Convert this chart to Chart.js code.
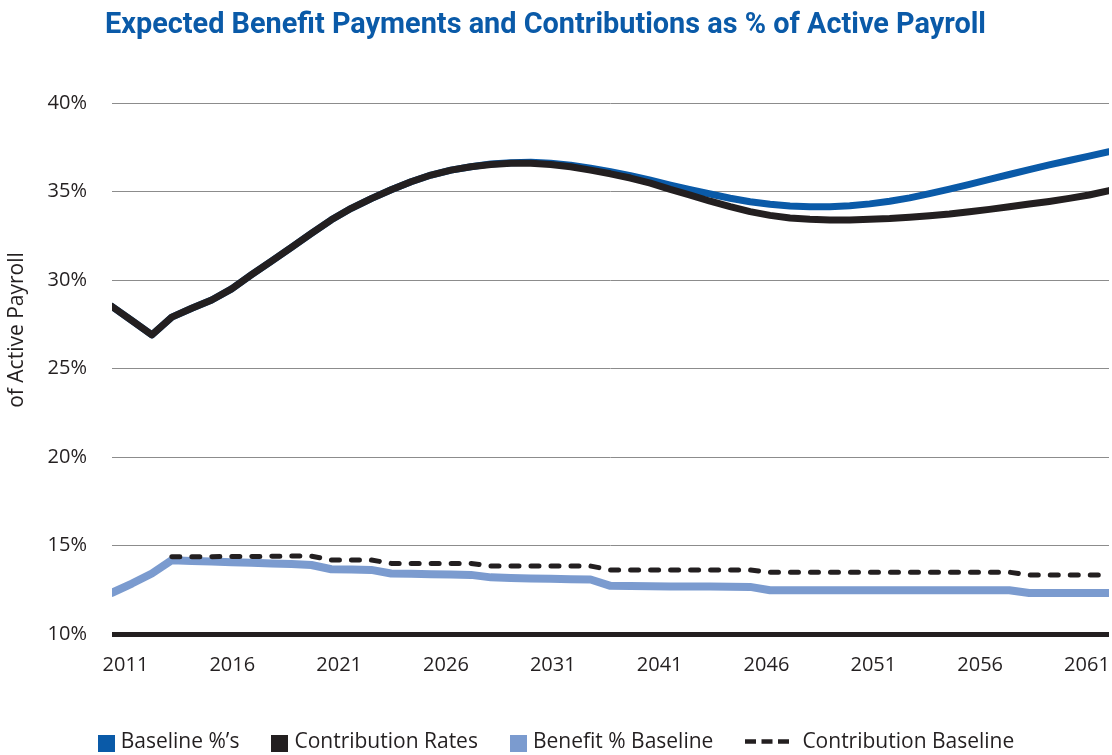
<!DOCTYPE html>
<html>
<head>
<meta charset="utf-8">
<title>Expected Benefit Payments and Contributions as % of Active Payroll</title>
<script src="https://cdn.jsdelivr.net/npm/chart.js@4.4.1/dist/chart.umd.min.js"></script>
<style>
  body { margin: 0; background: #fff; overflow: hidden; }
  #wrap { position: relative; width: 1112px; height: 755px; }
  #title {
    position: absolute; left: 105px; top: 9px;
    font: 700 29px Roboto, sans-serif; line-height: 29px;
    color: #0a5aa8; white-space: nowrap; transform-origin: 0 0;
  }
  #legend {
    position: absolute; left: 0; top: 728px; width: 1112px;
    display: flex; justify-content: center;
    font: 21px "Open Sans", sans-serif; line-height: 25px; color: #231f20;
  }
  #legend .item { display: flex; align-items: flex-start; margin: 0 16px; white-space: nowrap; }
  #legend .sw { width: 17px; height: 17px; margin: 7px 6px 0 0; }
  #legend svg { margin: 11px 13px 0 0; }
</style>
</head>
<body>
<div id="wrap">
  <canvas id="chart" width="1112" height="755"></canvas>
  <div id="title">Expected Benefit Payments and Contributions as % of Active Payroll</div>
  <div id="legend"></div>
</div>
<script>
// years on the x axis
const years = [2011, 2012, 2013, 2014, 2015, 2016, 2017, 2018, 2019, 2020,
  2021, 2022, 2023, 2024, 2025, 2026, 2027, 2028, 2029, 2030,
  2031, 2032, 2033, 2034, 2035, 2036, 2037, 2038, 2039, 2040,
  2041, 2042, 2043, 2044, 2045, 2046, 2047, 2048, 2049, 2050,
  2051, 2052, 2053, 2054, 2055, 2056, 2057, 2058, 2059, 2060, 2061];

// labels printed under the axis (as in the original)
const tickLabels = ['2011', '2016', '2021', '2026', '2031', '2041', '2046', '2051', '2056', '2061'];

const seriesNames = ['Baseline %\u2019s', 'Contribution Rates', 'Benefit % Baseline', 'Contribution Baseline'];
const yTitle = 'of Active Payroll';

// values in % of active payroll
const baselinePct = [28.5, 27.7, 26.9, 27.9, 28.4, 28.87, 29.5, 30.3, 31.07, 31.85,
  32.64, 33.4, 34.05, 34.6, 35.1, 35.55, 35.93, 36.21, 36.4, 36.56,
  36.63, 36.65, 36.6, 36.49, 36.32, 36.12, 35.9, 35.64, 35.36, 35.1,
  34.86, 34.62, 34.42, 34.28, 34.18, 34.14, 34.14, 34.19, 34.3, 34.45,
  34.64, 34.88, 35.13, 35.4, 35.68, 35.96, 36.24, 36.5, 36.75, 37.0, 37.25];

const contributionRates = [28.5, 27.7, 26.9, 27.9, 28.4, 28.87, 29.5, 30.3, 31.07, 31.85,
  32.64, 33.4, 34.05, 34.6, 35.1, 35.55, 35.93, 36.21, 36.4, 36.53,
  36.59, 36.59, 36.53, 36.4, 36.21, 36.0, 35.76, 35.47, 35.12, 34.8,
  34.45, 34.14, 33.86, 33.65, 33.5, 33.43, 33.39, 33.39, 33.43, 33.47,
  33.54, 33.63, 33.73, 33.86, 33.99, 34.14, 34.29, 34.44, 34.61, 34.8, 35.05];

const benefitBaseline = [12.33, 12.85, 13.42, 14.17, 14.13, 14.1, 14.06, 14.02, 13.98, 13.95,
  13.9, 13.66, 13.64, 13.62, 13.42, 13.4, 13.38, 13.36, 13.34, 13.2,
  13.16, 13.14, 13.12, 13.1, 13.08, 12.72, 12.71, 12.7, 12.69, 12.69,
  12.68, 12.67, 12.66, 12.47, 12.47, 12.47, 12.47, 12.47, 12.47, 12.47,
  12.47, 12.47, 12.47, 12.47, 12.47, 12.47, 12.32, 12.32, 12.32, 12.32, 12.32];

const contributionBaseline = [null, null, null, 14.36, 14.37, 14.37, 14.38, 14.38, 14.39, 14.4,
  14.4, 14.18, 14.18, 14.18, 13.99, 13.99, 13.99, 13.99, 13.99, 13.84,
  13.84, 13.84, 13.84, 13.84, 13.84, 13.62, 13.62, 13.62, 13.62, 13.62,
  13.62, 13.62, 13.62, 13.49, 13.49, 13.49, 13.49, 13.49, 13.49, 13.49,
  13.49, 13.49, 13.49, 13.49, 13.49, 13.49, 13.33, 13.33, 13.33, 13.33, 13.33];

const ink = '#231f20';
Chart.defaults.font.family = '"Open Sans", sans-serif';
Chart.defaults.font.size = 20;
Chart.defaults.color = ink;

const toPoints = arr => years.map((yr, i) => ({ x: yr, y: arr[i] }));

// rotated axis caption, placed like the original
const yTitlePlugin = {
  id: 'yTitle',
  afterDraw(chart) {
    const c = chart.ctx;
    c.save();
    c.translate(17, 330);
    c.rotate(-Math.PI / 2);
    c.font = '21px "Open Sans"';
    c.fillStyle = ink;
    c.textAlign = 'center';
    c.textBaseline = 'middle';
    c.fillText(yTitle, 0, 0);
    c.restore();
  }
};

const ctx = document.getElementById('chart').getContext('2d');
const chart = new Chart(ctx, {
  type: 'line',
  data: {
    datasets: [
      { label: seriesNames[0], data: toPoints(baselinePct), borderColor: '#0a5aa8', backgroundColor: '#0a5aa8',
        borderWidth: 7, order: 2 },
      { label: seriesNames[1], data: toPoints(contributionRates), borderColor: ink, backgroundColor: ink,
        borderWidth: 7, order: 1 },
      { label: seriesNames[2], data: toPoints(benefitBaseline), borderColor: '#7b9bcf', backgroundColor: '#7b9bcf',
        borderWidth: 8, order: 4 },
      { label: seriesNames[3], data: toPoints(contributionBaseline), borderColor: ink, backgroundColor: ink,
        borderWidth: 5, borderDash: [8, 12], order: 3 }
    ].map(ds => Object.assign({ xAxisID: 'x', yAxisID: 'y', pointRadius: 0, tension: 0,
      borderCapStyle: 'round', borderJoinStyle: 'round', fill: false }, ds))
  },
  options: {
    responsive: false,
    animation: false,
    layout: { padding: { top: 103, right: 3, bottom: 78, left: 0 } },
    plugins: { legend: { display: false }, tooltip: { enabled: false } },
    scales: {
      x: { type: 'linear', min: 2011, max: 2061, display: false },
      xl: {
        type: 'linear', position: 'bottom', min: -0.126, max: 9.206,
        grid: { display: false, drawTicks: false }, border: { display: false },
        ticks: { stepSize: 1, includeBounds: false, autoSkip: false, maxRotation: 0, padding: 19,
          callback: v => tickLabels[v] ?? '' },
        afterFit: s => { s.height = 43; s.paddingLeft = 0; s.paddingRight = 0; }
      },
      y: {
        min: 10, max: 40,
        border: { display: false },
        grid: {
          drawTicks: false,
          color: c => c.tick.value === 10 ? ink : '#8c8c8c',
          lineWidth: c => c.tick.value === 10 ? 5 : 1
        },
        ticks: { stepSize: 5, padding: 25, callback: v => v + '%' },
        afterFit: s => { s.width = 112; s.paddingTop = 0; s.paddingBottom = 0; }
      }
    }
  },
  plugins: [yTitlePlugin]
});

// squeeze the title to the original's condensed width
const title = document.getElementById('title');
const m = document.createElement('canvas').getContext('2d');
m.font = '700 29px Roboto';
title.style.transform = 'scaleX(' + (881 / m.measureText(title.textContent).width) + ')';

// html legend built from the datasets
const legend = document.getElementById('legend');
chart.data.datasets.forEach(ds => {
  const item = document.createElement('span');
  item.className = 'item';
  if (ds.borderDash) {
    item.innerHTML = '<svg width="44" height="5"><line x1="0" y1="2.5" x2="44" y2="2.5" stroke="' + ds.borderColor +
      '" stroke-width="4.5" stroke-dasharray="11 5.5"/></svg>';
  } else {
    item.innerHTML = '<span class="sw" style="background:' + ds.borderColor + '"></span>';
  }
  item.appendChild(document.createTextNode(ds.label));
  legend.appendChild(item);
});
</script>
</body>
</html>
